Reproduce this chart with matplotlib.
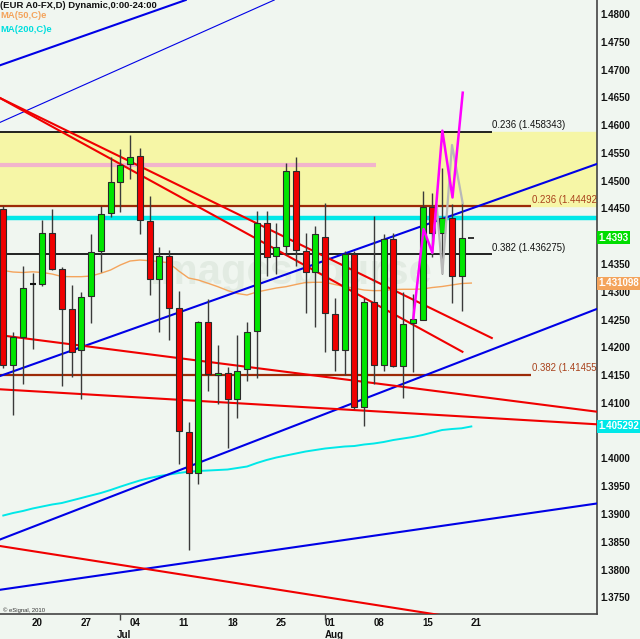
import matplotlib
matplotlib.use("Agg")
import matplotlib.pyplot as plt
from matplotlib.transforms import ScaledTranslation, blended_transform_factory
import numpy as np

# ---------------- data ----------------
opens  = [1.44438, 1.41635, 1.42134, 1.43093, 1.43093, 1.44006, 1.43358, 1.42638, 1.41905, 1.42883,
          1.43693, 1.44366, 1.44929, 1.45248, 1.45397, 1.44233, 1.43178, 1.43597, 1.42667, 1.40435,
          1.39686, 1.42409, 1.41455, 1.41486, 1.41018, 1.41558, 1.42242, 1.44186, 1.43603, 1.43783,
          1.45133, 1.43687, 1.43304, 1.43945, 1.42548, 1.41905, 1.43633, 1.40879, 1.42769, 1.41641,
          1.43912, 1.41614, 1.42395, 1.42449, 1.44484, 1.44006, 1.44276, 1.43243]
highs  = [1.44497, 1.42229, 1.43417, 1.43286, 1.44245, 1.44438, 1.43405, 1.43081, 1.42949, 1.43993,
          1.44497, 1.45374, 1.45529, 1.45775, 1.45536, 1.44677, 1.43765, 1.43705, 1.42967, 1.40604,
          1.42420, 1.42823, 1.41990, 1.41605, 1.42175, 1.42415, 1.44407, 1.44413, 1.44186, 1.45266,
          1.45374, 1.44017, 1.44137, 1.44546, 1.42847, 1.43687, 1.43687, 1.42841, 1.44326, 1.43988,
          1.44011, 1.42944, 1.42922, 1.44776, 1.44726, 1.45176, 1.44533, 1.44546]
lows   = [1.41581, 1.40735, 1.41288, 1.41929, 1.43063, 1.43350, 1.41263, 1.41419, 1.41029, 1.42397,
          1.43315, 1.44294, 1.44395, 1.44978, 1.43988, 1.42895, 1.42229, 1.42085, 1.39848, 1.38305,
          1.39493, 1.41173, 1.40933, 1.40136, 1.40676, 1.41347, 1.41396, 1.43243, 1.43273, 1.43615,
          1.43423, 1.42566, 1.42314, 1.41864, 1.41533, 1.41455, 1.40852, 1.40537, 1.41293, 1.41536,
          1.41600, 1.41045, 1.41506, 1.42442, 1.43585, 1.43268, 1.42746, 1.42613]
closes = [1.41635, 1.42134, 1.43016, 1.43093, 1.44006, 1.43363, 1.42649, 1.41869, 1.42865, 1.43675,
          1.44348, 1.44924, 1.45230, 1.45385, 1.44245, 1.43178, 1.43597, 1.42667, 1.40453, 1.39686,
          1.42409, 1.41468, 1.41486, 1.41018, 1.41533, 1.42224, 1.44186, 1.43574, 1.43765, 1.45133,
          1.43705, 1.43304, 1.43988, 1.42566, 1.41905, 1.43633, 1.40879, 1.42778, 1.41641, 1.43912,
          1.41614, 1.42377, 1.42458, 1.44483, 1.44006, 1.44276, 1.43243, 1.43930]

ma50 = [1.43336, 1.43309, 1.43300, 1.43313, 1.43300, 1.43273, 1.43228, 1.43225, 1.43225, 1.43237,
        1.43286, 1.43345, 1.43435, 1.43507, 1.43525, 1.43513, 1.43498, 1.43471, 1.43327, 1.43201,
        1.43165, 1.43106, 1.43045, 1.42976, 1.42922, 1.42895, 1.42949, 1.42985, 1.43021, 1.43045,
        1.43084, 1.43120, 1.43124, 1.43124, 1.43084, 1.43048, 1.43016, 1.42985, 1.42973, 1.42976,
        1.42994, 1.42998, 1.42998, 1.43003, 1.43030, 1.43048, 1.43075, 1.43102, 1.43110]
ma200 = [1.38926, 1.38971, 1.39007, 1.39052, 1.39088, 1.39124, 1.39151, 1.39196, 1.39241, 1.39286,
         1.39331, 1.39385, 1.39445, 1.39502, 1.39556, 1.39601, 1.39637, 1.39664, 1.39691, 1.39715,
         1.39727, 1.39736, 1.39745, 1.39754, 1.39781, 1.39808, 1.39871, 1.39925, 1.39970, 1.40006,
         1.40042, 1.40078, 1.40105, 1.40132, 1.40150, 1.40168, 1.40177, 1.40204, 1.40222, 1.40249,
         1.40285, 1.40312, 1.40339, 1.40375, 1.40420, 1.40465, 1.40483, 1.40496, 1.40529]

last_price = 1.4393
ma50_last = 1.431098
ma200_last = 1.405292

# trendlines: (x0, p0, x1, p1)
blue_lines = [(-0.338, 1.47030, 18.71, 1.48205),
              (-0.338, 1.41437, 60.86, 1.45253),
              (-0.338, 1.38494, 60.86, 1.42643),
              (-0.338, 1.37589, 60.86, 1.39142)]
blue_thin = [(-0.338, 1.46002, 27.79, 1.48205)]
red_lines = [(-0.338, 1.46441, 50.10, 1.42121),
             (-0.338, 1.46441, 47.09, 1.41873),
             (-0.338, 1.42172, 60.86, 1.40795),
             (-0.338, 1.41198, 60.86, 1.40568),
             (-0.338, 1.38377, 45.41, 1.37117)]

fib_black = [(0.236, 1.458343), (0.382, 1.436275)]
fib_brown = [(0.236, 1.44492), (0.382, 1.41455)]
cyan_level = 1.44287
pink_level = 1.45235

magenta_x = [42.05, 43.10, 44.00, 45.03, 46.07, 47.12]
magenta_y = [1.42476, 1.44083, 1.43657, 1.45853, 1.44650, 1.46537]
gray_x = [44.00, 44.45, 45.03, 46.02, 47.12]
gray_y = [1.43657, 1.44515, 1.43286, 1.45595, 1.44546]

yticks = [1.3750 + 0.005 * i for i in range(22) if i != 6]
xtick_pos = [3.5, 8.5, 13.5, 18.5, 23.5, 28.5, 33.5, 38.5, 43.5, 48.5]
xtick_lab = ["20", "27", "04", "11", "18", "25", "01", "08", "15", "21"]
months = [(12.4, "Jul"), (33.9, "Aug")]
month_ticks = [12.0, 33.0]

# ---------------- style ----------------
BG = "#f0f6f0"
GREEN = "#00e600"
RED = "#f00000"
BROWN = "#9c2a08"
CYAN = "#00e8e8"
ORANGE = "#f4a45c"
BLUE = "#0000e6"
FONT = "Liberation Sans"

fig = plt.figure(figsize=(6.4, 6.39), dpi=100, facecolor=BG)
ax = fig.add_axes([0.0, 1 - 614 / 639, 596.7 / 640, 614 / 639])
ax.set_facecolor(BG)
ax.set_xlim(-0.338, 60.86)
ax.set_ylim(1.371532, 1.482052)

# fib zone
ax.axhspan(fib_brown[0][1], fib_black[0][1], color="#f6f6a6", zorder=0)

# horizontal levels
ax.axhline(cyan_level, color=CYAN, lw=3.2, zorder=1)
ax.hlines(pink_level, -0.338, 38.23, color="#f2b4cc", lw=3.0, zorder=1)
for ratio, p in fib_black:
    ax.hlines(p, -0.338, 50.12, color="#111111", lw=1.3, zorder=2)
    ax.annotate(f"{ratio:.3f} ({p:.6f})", (50.17, p), xytext=(0, 1.2), textcoords="offset points",
                fontsize=6.9, color="#111111", family=FONT, va="bottom", ha="left", zorder=5)
for ratio, p in fib_brown:
    ax.hlines(p, -0.338, 54.12, color=BROWN, lw=1.6, zorder=2)
    ax.annotate(f"{ratio:.3f} ({p:.5f})", (54.2, p), xytext=(0, 1.2), textcoords="offset points",
                fontsize=6.9, color="#a8401a", family=FONT, va="bottom", ha="left", zorder=5,
                annotation_clip=False, clip_on=True)

# moving averages
ax.plot(np.arange(len(ma50)), ma50, color=ORANGE, lw=1.0, zorder=2)
ax.plot(np.arange(len(ma200)), ma200, color=CYAN, lw=1.4, zorder=2)

# trendlines
for x0, p0, x1, p1 in blue_lines:
    ax.plot([x0, x1], [p0, p1], color=BLUE, lw=1.5, zorder=3)
for x0, p0, x1, p1 in blue_thin:
    ax.plot([x0, x1], [p0, p1], color=BLUE, lw=0.8, zorder=3)
for x0, p0, x1, p1 in red_lines:
    ax.plot([x0, x1], [p0, p1], color=RED, lw=1.5, zorder=3)

# watermark
ax.text(29.5, 1.4330, "imagesbourse", fontsize=30, fontweight="bold", color="#e2ebe2",
        family=FONT, ha="center", va="center", zorder=1.5)

# candles
idx = np.arange(len(opens))
o = np.array(opens); c = np.array(closes); h = np.array(highs); l = np.array(lows)
ax.vlines(idx, l, h, color="#3a3a3a", lw=1.0, zorder=6)
up = c > o
down = c < o
flat = c == o
w = 0.62
ax.bar(idx[up], (c - o)[up], bottom=o[up], width=w, color=GREEN, edgecolor="#2a2a2a", lw=0.8, zorder=7)
ax.bar(idx[down], (c - o)[down], bottom=o[down], width=w, color=RED, edgecolor="#2a2a2a", lw=0.8, zorder=7)
ax.hlines(c[flat], idx[flat] - w / 2, idx[flat] + w / 2, color="#111111", lw=1.5, zorder=7)

# projection zigzags
ax.plot(gray_x, gray_y, color="#b8b8b8", lw=1.6, zorder=8)
ax.plot(magenta_x, magenta_y, color="#ff00ff", lw=1.8, zorder=9)

# last price marker
ax.hlines(last_price, 47.7, 48.3, color="#111111", lw=1.2, zorder=8)

# axes styling
for s in ["left", "top"]:
    ax.spines[s].set_visible(False)
for s in ["right", "bottom"]:
    ax.spines[s].set_color("#444444")
    ax.spines[s].set_linewidth(1.2)

ax.yaxis.tick_right()
ax.set_yticks(yticks)
ax.set_yticklabels([f"{v:.4f}" for v in yticks])
ax.tick_params(axis="y", length=0, pad=2.5, labelsize=7, colors="#111111")
for lab in ax.get_yticklabels():
    lab.set_fontweight("bold")
    lab.set_family(FONT)
    lab.set_transform(lab.get_transform() + ScaledTranslation(0, -2.6 / 100, fig.dpi_scale_trans))

ax.set_xticks(xtick_pos)
ax.set_xticklabels(xtick_lab)
ax.tick_params(axis="x", length=0, pad=3, labelsize=7, colors="#111111")
for lab in ax.get_xticklabels():
    lab.set_fontweight("bold")
    lab.set_family(FONT)
ax.set_xticks(month_ticks, minor=True)
ax.tick_params(axis="x", which="minor", length=4, width=1, color="#444444", direction="out")
for x, m in months:
    ax.text(x, -0.034, m, transform=blended_transform_factory(ax.transData, ax.transAxes),
            fontsize=7, fontweight="bold", family=FONT, ha="center", va="center", color="#111111")

# price boxes
tr = blended_transform_factory(ax.transAxes, ax.transData)
ax.text(1.003, last_price, f"{last_price:.4f}", transform=tr, fontsize=7, fontweight="bold", family=FONT,
        color="white", va="center", ha="left", clip_on=False, zorder=20,
        bbox=dict(boxstyle="square,pad=0.15", fc="#00dd00", ec="none"))
ax.text(1.003, ma50_last, f"{ma50_last:.6f}", transform=tr, fontsize=7, fontweight="bold", family=FONT,
        color="white", va="center", ha="left", clip_on=False, zorder=20,
        bbox=dict(boxstyle="square,pad=0.15", fc=ORANGE, ec="none"))
ax.text(1.003, ma200_last, f"{ma200_last:.6f}", transform=tr, fontsize=7, fontweight="bold", family=FONT,
        color="white", va="center", ha="left", clip_on=False, zorder=20,
        bbox=dict(boxstyle="square,pad=0.15", fc=CYAN, ec="none"))

# header
fig.text(0.0, 1 - 6 / 639, "(EUR A0-FX,D) Dynamic,0:00-24:00", fontsize=6.8, fontweight="bold",
         family=FONT, color="#111111", va="center", ha="left")
fig.text(0.0, 1 - 15 / 639, "MA(50,C)e", fontsize=6.8, fontweight="bold", family=FONT, color=ORANGE,
         va="center", ha="left")
fig.text(0.0, 1 - 30 / 639, "MA(200,C)e", fontsize=6.8, fontweight="bold", family=FONT, color="#00dede",
         va="center", ha="left")
fig.text(0.004, 1 - 610 / 639, "\u00a9 eSignal, 2010", fontsize=4.2, family=FONT, color="#333333",
         va="center", ha="left")

fig.savefig("out.png", dpi=100, facecolor=BG)
